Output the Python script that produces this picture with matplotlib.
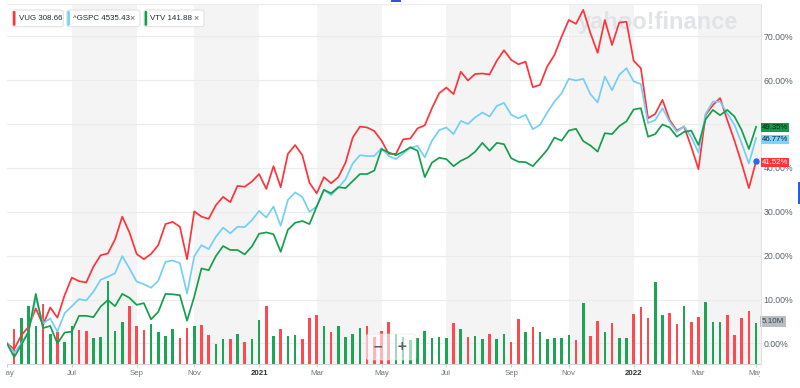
import matplotlib
matplotlib.use("Agg")
import matplotlib.pyplot as plt
import matplotlib.transforms as mtransforms
from matplotlib.patches import FancyBboxPatch, Rectangle
from matplotlib.transforms import Bbox, IdentityTransform
import numpy as np
import pandas as pd

plt.rcParams['font.family'] = ['Liberation Sans', 'DejaVu Sans']

# ---------------- data ----------------
week_start = "2020-05-04"
n_weeks = 105

vug_pct = [0.0,
    -1.3, 1.9, 3.8, 8.0, 4.2, 8.2, 5.9, 11.0, 15.0, 14.2,
    13.9, 17.5, 20.1, 20.5, 23.7, 28.9, 25.3, 20.4, 19.2, 20.4,
    22.4, 27.2, 27.7, 26.6, 19.2, 30.1, 28.9, 28.4, 31.5, 33.4,
    32.2, 35.9, 35.7, 36.9, 38.6, 35.2, 40.4, 35.6, 43.2, 45.2,
    42.9, 36.6, 34.2, 37.9, 36.5, 37.9, 41.2, 46.9, 49.4, 49.2,
    48.4, 46.2, 43.2, 43.2, 46.5, 46.7, 49.0, 49.7, 53.6, 57.0,
    58.3, 56.8, 61.9, 59.9, 61.4, 61.5, 61.3, 64.4, 66.8, 64.6,
    63.6, 64.2, 58.4, 58.9, 63.1, 65.7, 69.9, 73.7, 72.8, 76.0,
    70.7, 66.2, 73.7, 68.0, 73.1, 73.3, 64.4, 62.7, 51.3, 52.3,
    55.5, 50.9, 48.5, 49.4, 44.8, 39.7, 52.1, 54.3, 55.9, 50.9,
    46.2, 41.0, 35.4, 41.52]

gspc_pct = [0.0,
    -2.1, 0.0, 2.7, 10.3, 4.6, 5.7, 2.7, 6.9, 8.5, 10.1,
    9.8, 11.8, 14.5, 15.2, 16.0, 19.9, 17.1, 14.1, 13.5, 12.7,
    14.3, 18.6, 18.9, 18.3, 11.4, 19.9, 22.4, 21.5, 24.3, 26.4,
    25.1, 26.6, 26.5, 28.1, 30.2, 28.7, 31.2, 26.8, 32.7, 34.4,
    33.4, 30.0, 31.2, 35.0, 33.8, 35.5, 37.4, 41.0, 42.9, 42.7,
    42.7, 44.5, 42.7, 42.0, 43.3, 44.6, 45.0, 42.4, 46.2, 48.6,
    49.2, 47.7, 50.7, 50.0, 51.5, 52.6, 51.7, 54.1, 54.8, 52.1,
    51.3, 52.1, 48.8, 49.8, 52.6, 55.1, 57.0, 60.3, 59.9, 60.3,
    56.8, 54.9, 60.8, 57.7, 61.2, 62.7, 59.7, 59.1, 50.2, 50.9,
    53.6, 50.5, 48.2, 49.5, 47.0, 43.5, 52.3, 55.1, 55.1, 52.4,
    49.8, 45.6, 41.0, 46.77]

vtv_pct = [0.0,
    -3.1, -0.3, 2.7, 11.3, 3.5, 4.0, 0.0, 2.5, 2.7, 6.3,
    6.3, 6.0, 8.4, 9.9, 8.5, 11.3, 10.4, 8.8, 9.2, 5.5,
    7.2, 11.3, 11.2, 11.0, 5.2, 10.7, 17.1, 16.7, 19.9, 22.2,
    21.3, 21.3, 20.3, 22.1, 25.0, 25.3, 24.9, 20.9, 25.9, 27.5,
    27.9, 27.2, 31.2, 35.0, 34.2, 35.6, 35.4, 37.0, 38.6, 38.6,
    39.4, 44.3, 43.5, 42.9, 43.7, 44.7, 43.9, 37.9, 41.2, 42.3,
    42.0, 40.4, 41.6, 42.4, 43.7, 45.7, 43.9, 45.7, 45.4, 42.2,
    41.4, 41.3, 40.4, 42.2, 44.1, 46.9, 46.2, 48.5, 48.9, 46.1,
    45.1, 43.7, 47.9, 47.7, 49.5, 50.6, 53.3, 53.6, 47.1, 47.7,
    49.9, 49.2, 47.1, 48.2, 48.5, 45.2, 51.1, 53.2, 52.0, 53.2,
    51.7, 48.6, 44.3, 49.35]

# weekly VUG volume (millions), from the 2nd week on
volume_m = [
    4.4, 5.7, 7.3, 4.7, 7.5, 3.8, 4.0, 2.8, 4.7, 4.3,
    4.1, 3.3, 3.4, 10.4, 4.1, 5.3, 7.3, 4.7, 4.3, 5.0,
    4.0, 3.5, 4.4, 3.3, 4.5, 4.8, 4.9, 3.6, 2.5, 3.1,
    3.1, 3.75, 2.7, 3.1, 5.5, 7.3, 3.5, 4.4, 3.5, 3.6,
    3.1, 5.7, 6.1, 4.75, 4.0, 4.7, 3.4, 3.8, 4.5, 4.8,
    3.4, 4.1, 5.3, 3.8, 3.4, 3.0, 3.2, 4.1, 3.2, 3.4,
    3.2, 5.1, 4.4, 3.4, 3.5, 3.1, 3.7, 3.1, 3.8, 2.75,
    5.6, 4.0, 4.6, 4.0, 3.1, 3.2, 3.3, 3.6, 3.0, 7.6,
    3.5, 5.4, 4.0, 5.1, 3.3, 3.2, 6.25, 7.1, 5.8, 10.3,
    6.1, 6.4, 5.0, 7.3, 5.2, 5.9, 7.7, 5.3, 5.3, 6.1,
    3.6, 5.8, 6.6, 5.10]

legend_labels = ["VUG 308.66", "^GSPC 4535.43", "VTV 141.88"]
last_labels = ["41.52%", "46.77%", "49.35%"]
volume_label = "5.10M"
y_ticks = [0, 10, 20, 30, 40, 50, 60, 70]
y_tick_labels = ["0.00%", "10.00%", "20.00%", "30.00%", "40.00%", "50.00%", "60.00%", "70.00%"]
x_tick_labels = ["May", "Jul", "Sep", "Nov", "2021", "Mar", "May", "Jul", "Sep", "Nov", "2022", "Mar", "May"]
watermark = "yahoo!finance"

# ---------------- styling ----------------
C_RED = "#ff333a"
C_BLUE = "#74cff6"
C_GREEN = "#13a04c"
C_VRED = "#ff4950"
C_VGREEN = "#1da556"
W, H = 800, 388

dates = pd.date_range(week_start, periods=n_weeks, freq="W-MON")
x = np.arange(n_weeks)

# first week of every odd month -> label position
tick_pos = [j for j, d in enumerate(dates)
            if (j == 0 or d.month != dates[j - 1].month) and d.month % 2 == 1]

fig = plt.figure(figsize=(W / 100, H / 100), dpi=100)
fig.patch.set_facecolor("white")

ax_vol = fig.add_axes([7 / W, 24 / H, 753.7 / W, 360 / H])
ax = ax_vol.twinx()

xmin, xmax = 0.683, 104.64
ax_vol.set_xlim(xmin, xmax)
ax_vol.set_ylim(0, 45)
ax.set_ylim(-4.67, 77.33)

# alternating bands
for k in range(1, len(tick_pos), 2):
    a = tick_pos[k]
    b = tick_pos[k + 1] if k + 1 < len(tick_pos) - 1 else xmax
    ax_vol.axvspan(a, b, color="#f4f4f4", lw=0, zorder=0)

# horizontal grid lines (in percent units)
gtrans = mtransforms.blended_transform_factory(ax_vol.transAxes, ax.transData)
for v in y_ticks:
    ax_vol.plot([0, 1], [v, v], transform=gtrans, color="#ebebeb", lw=0.8, zorder=0.5)

# watermark
ax_vol.text(578, H - 29, watermark, transform=IdentityTransform(), fontsize=17,
            fontweight="bold", color="#e2e3e7", zorder=1.5, va="baseline")

# volume bars
up = np.diff(np.array(vug_pct)) >= 0
bar_colors = [C_VGREEN if u else C_VRED for u in up]
ax_vol.bar(x[1:], volume_m, width=0.36, color=bar_colors, lw=0, zorder=2)

# lines
ax.plot(x, vug_pct, color=C_RED, lw=1.25, zorder=3)
ax.plot(x, gspc_pct, color=C_BLUE, lw=1.25, zorder=3)
ax.plot(x, vtv_pct, color=C_GREEN, lw=1.25, zorder=3)
ax.plot([x[-1]], [vug_pct[-1]], "o", color="#1e6bff", ms=3.6, zorder=6, clip_on=False)

# spines
for s in ["left", "top", "right"]:
    ax_vol.spines[s].set_visible(False)
ax_vol.spines["bottom"].set_color("#d6d6d6")
ax_vol.spines["bottom"].set_linewidth(0.8)
ax.spines["left"].set_visible(False)
ax.spines["bottom"].set_visible(False)
ax.spines["top"].set_color("#ececec")
ax.spines["top"].set_linewidth(0.8)
ax.spines["right"].set_color("#e3e3e3")
ax.spines["right"].set_linewidth(0.8)

ax_vol.set_yticks([])
ax_vol.set_xticks(tick_pos)
ax_vol.set_xticklabels([""] * len(tick_pos))
ax_vol.tick_params(axis="x", length=2.2, width=0.8, color="#cfcfcf")

# right-hand tick labels; those hidden under a last-value tag are left blank (as in the original)
last_vals = [vug_pct[-1], gspc_pct[-1], vtv_pct[-1]]
shown = [lab if min(abs(t - v) for v in last_vals) > 1.2 else ""
         for t, lab in zip(y_ticks, y_tick_labels)]
ax.set_yticks(y_ticks)
ax.set_yticklabels(shown)
ax.tick_params(axis="y", length=0, pad=2.0, labelsize=6.3, labelcolor="#5b636a")

# x labels (clipped like the original at the chart edges)
clipbox = Bbox.from_extents(5.8, 0, 760.0, H)
xl_trans = mtransforms.blended_transform_factory(ax_vol.transData, fig.transFigure)
for pos, lab in zip(tick_pos, x_tick_labels):
    is_year = lab.isdigit()
    t = fig.text(pos, 14.3 / H, lab, transform=xl_trans, ha="center", va="center",
                 fontsize=5.7, color="#2d3136" if is_year else "#6f777e",
                 fontweight="bold" if is_year else "normal")
    t.set_clip_box(clipbox)
    t.set_clip_on(True)

# last value labels
ltrans = mtransforms.blended_transform_factory(ax.transAxes, ax.transData)
lx = 1 + 1.4 / 753.7
for val, lab, fc, tc in [(vug_pct[-1], last_labels[0], C_RED, "white"),
                         (gspc_pct[-1], last_labels[1], "#7dd3f8", "#0c1e33"),
                         (vtv_pct[-1], last_labels[2], "#0a9e4c", "#0b1a10")]:
    ax.text(lx, val, lab, transform=ltrans, ha="left", va="center_baseline", fontsize=5.6,
            color=tc, zorder=10, clip_on=False,
            bbox=dict(boxstyle="square,pad=0.14", fc=fc, ec="none"))

vtrans = mtransforms.blended_transform_factory(ax_vol.transAxes, ax_vol.transData)
ax_vol.text(lx, volume_m[-1] + 0.35, volume_label, transform=vtrans, ha="left",
            va="center_baseline", fontsize=5.8, color="#3d434a", zorder=10, clip_on=False,
            bbox=dict(boxstyle="square,pad=0.2", fc="#b9bdc4", ec="none"))

# legend chips
chips = [(12.3, 63.3, C_RED, False, 19.0),
         (66.7, 140.0, C_BLUE, True, 72.7),
         (144.0, 204.0, C_GREEN, True, 150.0)]
for (x0, x1, col, closable, tx), lab in zip(chips, legend_labels):
    y0, y1 = 10.0, 26.7
    fig.add_artist(FancyBboxPatch((x0, H - y1), x1 - x0, y1 - y0,
                                  boxstyle="round,pad=0,rounding_size=2.5",
                                  fc="white", ec="#dedede", lw=0.7,
                                  transform=IdentityTransform()))
    fig.add_artist(FancyBboxPatch((x0 + 0.6, H - y1 + 1.0), 2.6, y1 - y0 - 2.0,
                                  boxstyle="round,pad=0,rounding_size=1.0",
                                  fc=col, ec="none", transform=IdentityTransform()))
    fig.text(tx / W, 1 - 18.4 / H, lab, ha="left", va="center", fontsize=5.7, color="#232a31")
    if closable:
        fig.text((x1 - 7.5) / W, 1 - 18.4 / H, "\u00d7", ha="center", va="center",
                 fontsize=6.5, color="#5b636a")

# zoom buttons overlay
fig.add_artist(FancyBboxPatch((366, H - 360), 50, 26, boxstyle="round,pad=0,rounding_size=3",
                              fc="white", ec="#e2e2e2", lw=0.6, alpha=0.6,
                              transform=IdentityTransform()))
fig.text(378 / W, 1 - 347 / H, "\u2212", ha="center", va="center", fontsize=9,
         fontweight="bold", color="#5b5f63", family="DejaVu Sans")
fig.text(402 / W, 1 - 347 / H, "+", ha="center", va="center", fontsize=9,
         fontweight="bold", color="#5b5f63", family="DejaVu Sans")

# small UI marks
fig.add_artist(Rectangle((391, H - 2.2), 10, 2.2, fc="#3b4fd8", ec="none",
                         transform=IdentityTransform()))
fig.add_artist(Rectangle((798, H - 204), 2, 22, fc="#1f5cf0", ec="none",
                         transform=IdentityTransform()))

fig.savefig("out.png", dpi=100)
